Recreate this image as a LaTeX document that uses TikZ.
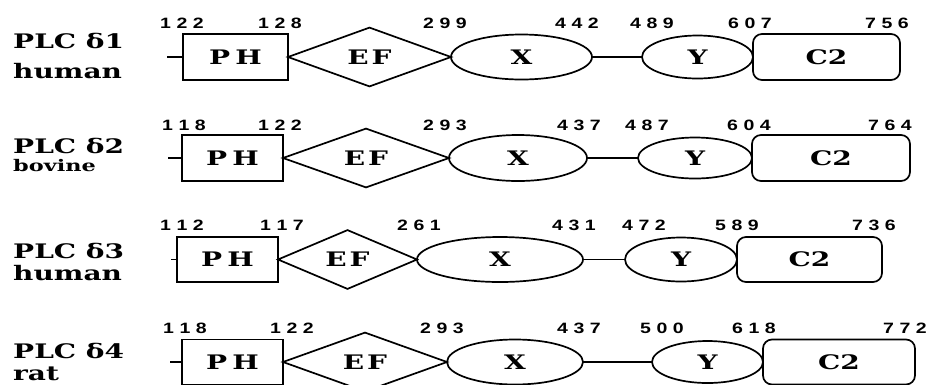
\documentclass[tikz,border=0pt]{standalone}
\usepackage{fontspec}
\usetikzlibrary{shapes.geometric}
\newfontfamily\lblfam[FakeStretch=1.4]{DejaVu Serif}
\newfontfamily\numfam[FakeStretch=1.3]{Liberation Sans}
\newcommand\lblbig{\lblfam\bfseries\fontsize{20}{24}\selectfont}
\newcommand\lblsmall{\lblfam\bfseries\fontsize{16}{20}\selectfont}
\newcommand\numtxt{\numfam\bfseries\fontsize{15}{17}\selectfont}
\newcommand\nm[3]{#1\kern5.5pt#2\kern5.5pt#3}
\tikzset{
  dom/.style={draw, line width=1.7pt, inner sep=0pt, outer sep=0pt, font=\lblbig},
  phbox/.style={dom, rectangle},
  efd/.style={dom, diamond},
  ell/.style={dom, ellipse},
  c2box/.style={dom, rectangle, rounded corners=9pt},
  link/.style={line width=1.7pt},
  num/.style={anchor=base west, inner sep=0pt, font=\numtxt},
  plcname/.style={anchor=base west, inner sep=0pt, font=\lblbig},
  species/.style={anchor=base west, inner sep=0pt, font=\lblbig},
  speciessmall/.style={anchor=base west, inner sep=0pt, font=\lblsmall}
}
\begin{document}
\begin{tikzpicture}[x=1pt,y=-1pt]
\clip (0,0) rectangle (929,384);
\fill[white] (0,0) rectangle (929,384);

% ---------- Row 1 ----------
\node[plcname] (l1a) at (13,48) {PLC δ1};
\node[species] (l1b) at (13,78) {human};
\coordinate (s1) at (167,57);
\node[phbox, minimum width=105pt, minimum height=46pt] (ph1) at (235.5,57) {P\kern5pt H};
\node[efd, minimum width=163pt, minimum height=46pt] (ef1) at (369.5,57) {E\kern3pt F};
\node[ell, minimum width=141pt, minimum height=45pt] (x1) at (521.5,57) {X};
\node[ell, minimum width=111pt, minimum height=43pt] (y1) at (697.5,57) {Y};
\node[c2box, minimum width=147pt, minimum height=46pt] (c1) at (826.5,57) {C2};
\draw[link] (s1) -- (ph1.west);
\draw[link] (x1.east) -- (y1.west);
\node[num] (n11) at (160,28) {\nm122};
\node[num] (n12) at (258,28) {\nm128};
\node[num] (n13) at (423,28) {\nm299};
\node[num] (n14) at (555,28) {\nm442};
\node[num] (n15) at (630,28) {\nm489};
\node[num] (n16) at (728,28) {\nm607};
\node[num] (n17) at (865,28) {\nm756};

% ---------- Row 2 ----------
\node[plcname] (l2a) at (13,153) {PLC δ2};
\node[speciessmall] (l2b) at (13,171) {bovine};
\coordinate (s2) at (168,158);
\node[phbox, minimum width=101pt, minimum height=46pt] (ph2) at (232.5,158) {P\kern5pt H};
\node[efd, minimum width=166pt, minimum height=45pt] (ef2) at (366,158) {E\kern3pt F};
\node[ell, minimum width=138pt, minimum height=46pt] (x2) at (518,158) {X};
\node[ell, minimum width=114pt, minimum height=41pt] (y2) at (695,158) {Y};
\node[c2box, minimum width=158pt, minimum height=46pt] (c2) at (831,158) {C2};
\draw[link] (s2) -- (ph2.west);
\draw[link] (x2.east) -- (y2.west);
\node[num] (n21) at (162,130) {\nm118};
\node[num] (n22) at (258,130) {\nm122};
\node[num] (n23) at (423,130) {\nm293};
\node[num] (n24) at (557,130) {\nm437};
\node[num] (n25) at (625,130) {\nm487};
\node[num] (n26) at (727,130) {\nm604};
\node[num] (n27) at (868,130) {\nm764};

% ---------- Row 3 ----------
\node[plcname] (l3a) at (13,258) {PLC δ3};
\node[species] (l3b) at (13,280) {human};
\coordinate (s3) at (171,259.5);
\node[phbox, minimum width=101pt, minimum height=45pt] (ph3) at (227.5,259.5) {P\kern5pt H};
\node[efd, minimum width=139pt, minimum height=45pt] (ef3) at (347.5,259.5) {E\kern3pt F};
\node[ell, minimum width=166pt, minimum height=45pt] (x3) at (500,259.5) {X};
\node[ell, minimum width=112pt, minimum height=44pt] (y3) at (681,259.5) {Y};
\node[c2box, minimum width=145pt, minimum height=45pt] (c3) at (809.5,259.5) {C2};
\draw[link] (s3) -- (ph3.west);
\draw[link] (x3.east) -- (y3.west);
\node[num] (n31) at (160,230) {\nm112};
\node[num] (n32) at (260,230) {\nm117};
\node[num] (n33) at (397,230) {\nm261};
\node[num] (n34) at (552,230) {\nm431};
\node[num] (n35) at (622,230) {\nm472};
\node[num] (n36) at (715,230) {\nm589};
\node[num] (n37) at (852,230) {\nm736};

% ---------- Row 4 ----------
\node[plcname] (l4a) at (13,358) {PLC δ4};
\node[species] (l4b) at (13,380) {rat};
\coordinate (s4) at (170,362);
\node[phbox, minimum width=101pt, minimum height=45pt] (ph4) at (232.5,362) {P\kern5pt H};
\node[efd, minimum width=164pt, minimum height=45pt] (ef4) at (365,362) {E\kern3pt F};
\node[ell, minimum width=136pt, minimum height=45pt] (x4) at (515,362) {X};
\node[ell, minimum width=111pt, minimum height=42pt] (y4) at (707.5,362) {Y};
\node[c2box, minimum width=152pt, minimum height=45pt] (c4) at (839,362) {C2};
\draw[link] (s4) -- (ph4.west);
\draw[link] (x4.east) -- (y4.west);
\node[num] (n41) at (163,333) {\nm118};
\node[num] (n42) at (270,333) {\nm122};
\node[num] (n43) at (420,333) {\nm293};
\node[num] (n44) at (557,333) {\nm437};
\node[num] (n45) at (640,333) {\nm500};
\node[num] (n46) at (732,333) {\nm618};
\node[num] (n47) at (883,333) {\nm772};
\end{tikzpicture}
\end{document}
